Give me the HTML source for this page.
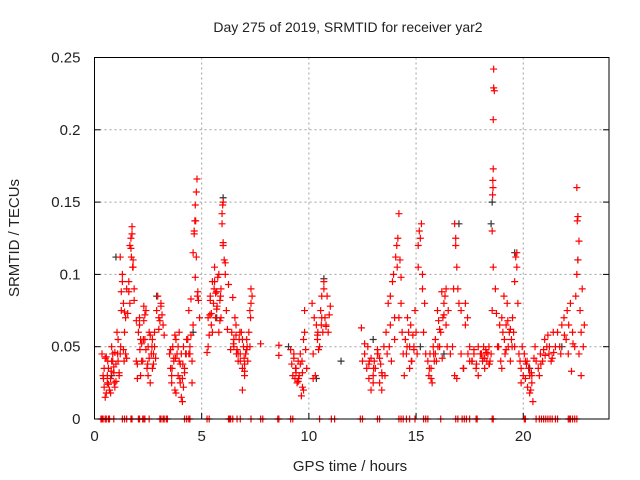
<!DOCTYPE html>
<html><head><meta charset="utf-8"><style>
body{margin:0;background:#fff;}
svg{display:block;font-family:"Liberation Sans",sans-serif;}
</style></head><body>
<svg id="chart" width="640" height="480" viewBox="0 0 640 480">
<text x="348" y="32" font-size="14" text-anchor="middle" fill="#222">Day 275 of 2019, SRMTID for receiver yar2</text>
<text x="350" y="471" font-size="15" text-anchor="middle" fill="#222">GPS time / hours</text>
<text transform="translate(19,238) rotate(-90)" font-size="15" text-anchor="middle" fill="#222">SRMTID / TECUs</text>
<g id="grid"></g>
<g id="axes"></g>
<g id="black"></g>
<g id="red"></g>
<rect x="94.5" y="57.5" width="514.5" height="361.5" fill="none" stroke="#000" stroke-width="1"/>
</svg>
<script>
const xTicks=[0,5,10,15,20];
const yTicks=[0,0.05,0.1,0.15,0.2,0.25];
const yTickLabels=["0","0.05","0.1","0.15","0.2","0.25"];
const redHours=[
.35,.4,.45,.5,.55,.6,.65,.7,.75,.8,.85,.9,.95,1.0,.5,.6,.7,.8,.9,1.0,.45,.55,.65,.75,.85,.95,
1.05,1.1,1.15,1.2,1.25,1.3,1.35,1.4,1.45,1.5,1.55,1.6,1.65,1.7,1.75,1.8,1.85,1.2,1.3,1.4,1.5,1.6,1.7,1.75,1.8,1.1,1.25,1.45,1.65,1.72,1.78,1.85,1.15,1.35,
1.95,2.0,2.05,2.1,2.15,2.2,2.25,2.3,2.35,2.4,2.45,2.5,2.55,2.6,2.65,2.7,2.75,2.8,2.85,2.0,2.1,2.2,2.3,2.4,2.5,2.6,2.7,2.8,1.95,2.15,2.35,2.55,2.75,
2.9,2.95,3.0,3.05,3.1,3.15,3.2,3.0,3.1,3.25,
3.5,3.55,3.6,3.65,3.7,3.75,3.8,3.85,3.9,3.95,4.0,4.05,4.1,4.15,4.2,4.25,4.3,3.6,3.7,3.8,3.9,4.0,4.1,4.2,3.55,3.75,3.95,4.15,4.05,
4.35,4.4,4.45,4.5,4.55,4.6,4.65,4.7,4.72,4.75,4.78,4.8,4.85,4.9,4.4,4.5,4.6,4.65,4.68,4.7,4.75,4.82,4.45,4.55,
5.25,5.3,5.35,5.4,5.45,5.5,5.55,5.6,5.65,5.7,5.75,5.8,5.85,5.9,5.95,6.0,6.05,6.1,6.15,6.2,6.25,5.3,5.4,5.5,5.6,5.7,5.8,5.9,6.0,6.1,5.95,6.0,5.98,5.45,5.65,5.85,
6.35,6.4,6.45,6.5,6.55,6.6,6.65,6.7,6.75,6.8,6.85,6.9,6.95,7.0,7.05,7.1,7.15,7.2,7.25,7.3,7.35,7.25,7.3,7.28,6.5,6.6,6.7,6.8,6.9,7.0,7.1,6.9,7.0,
7.75,8.6,8.6,
9.15,9.2,9.25,9.3,9.35,9.4,9.45,9.5,9.55,9.6,9.65,9.7,9.75,9.8,9.85,9.9,9.3,9.4,9.5,9.6,9.7,9.8,9.75,
10.15,10.2,10.25,10.3,10.35,10.4,10.45,10.5,10.55,10.6,10.65,10.7,10.75,10.8,10.85,10.9,10.95,11.0,10.4,10.6,10.8,10.2,10.7,
12.45,12.5,12.6,12.7,12.75,12.8,12.9,13.0,13.05,13.1,13.2,13.3,13.35,13.4,13.5,13.55,12.6,12.8,13.0,13.2,13.4,12.9,13.3,
13.6,13.65,13.7,13.75,13.8,13.85,13.9,13.95,14.0,14.05,14.1,14.15,14.2,14.25,14.3,14.35,14.4,14.45,13.8,14.0,14.2,14.3,14.12,
14.5,14.55,14.6,14.65,14.7,14.75,14.8,14.85,14.9,14.95,15.0,15.05,15.1,15.15,15.2,15.25,15.3,15.35,15.4,15.45,14.7,14.9,15.1,15.3,
15.55,15.6,15.65,15.7,15.75,15.8,15.85,15.9,15.95,16.0,16.05,16.1,16.15,16.2,16.25,16.3,16.35,16.4,16.45,16.5,15.7,15.9,16.1,16.3,16.4,
16.6,16.7,16.75,16.8,16.85,16.9,16.95,17.0,17.1,17.2,17.3,17.4,17.5,17.6,17.7,17.8,17.9,18.0,16.8,16.9,17.1,17.3,17.5,17.7,17.9,16.85,
18.05,18.1,18.15,18.2,18.25,18.3,18.35,18.4,18.45,18.5,18.55,18.58,18.6,18.62,18.65,18.55,18.6,18.7,18.75,18.8,18.2,18.4,18.6,18.62,18.57,18.59,
18.85,18.9,18.95,19.0,19.05,19.1,19.15,19.2,19.25,19.3,19.35,19.4,19.45,19.5,19.55,19.6,19.65,19.7,19.75,19.0,19.2,19.4,19.6,19.7,
19.8,19.85,19.9,19.95,20.0,20.05,20.1,20.15,20.2,20.25,20.3,20.35,20.4,20.45,20.5,20.55,19.9,20.1,20.3,20.4,
20.6,20.7,20.8,20.9,21.0,21.1,21.2,21.3,21.4,21.5,20.75,20.95,21.15,21.35,
21.6,21.7,21.8,21.9,22.0,22.1,22.2,22.3,22.4,22.45,22.5,22.55,22.6,22.65,22.7,22.75,22.8,22.85,21.75,22.05,22.25,22.5,22.52,22.55,22.6,22.7,
0.42,0.62,0.78,0.92,1.08,1.22,1.38,2.12,2.28,2.48,2.68,3.62,3.78,3.98,4.12,4.28,5.38,5.58,5.72,5.88,6.48,6.62,6.78,6.98,7.12,9.38,9.52,9.68,10.42,10.58,12.82,13.02,13.22,13.42,14.58,14.78,15.62,15.82,16.02,16.22,17.22,17.42,17.62,17.82,18.12,18.28,18.42,19.12,19.28,19.48,20.18,20.38,20.82,21.02,21.22,21.42,21.92,22.12,22.32];
const redValues=[
.045,.03,.022,.042,.018,.025,.035,.02,.028,.04,.045,.032,.022,.038,.015,.03,.02,.05,.036,.026,.035,.043,.024,.018,.04,.046,
.06,.055,.03,.112,.088,.1,.08,.074,.045,.09,.073,.095,.12,.125,.133,.105,.09,.045,.095,.06,.042,.088,.118,.128,.11,.04,.075,.07,.08,.112,.105,.082,.032,.048,
.068,.038,.06,.07,.03,.052,.04,.078,.055,.075,.035,.05,.06,.025,.045,.055,.038,.05,.042,.028,.065,.04,.068,.048,.03,.058,.035,.06,.04,.055,.072,.042,.045,
.075,.085,.07,.068,.078,.072,.065,.062,.08,.058,
.045,.035,.025,.05,.04,.02,.055,.045,.03,.06,.038,.015,.028,.05,.035,.045,.055,.03,.042,.018,.05,.025,.012,.032,.048,.058,.04,.022,.045,
.055,.075,.045,.058,.04,.115,.13,.148,.137,.157,.166,.085,.082,.07,.045,.083,.065,.128,.137,.098,.112,.088,.05,.025,
.046,.07,.058,.085,.065,.095,.08,.105,.07,.088,.098,.06,.082,.09,.135,.15,.11,.1,.075,.062,.093,.05,.082,.06,.095,.076,.1,.07,.12,.108,.142,.122,.148,.073,.087,.068,
.048,.06,.084,.055,.07,.065,.048,.04,.055,.045,.06,.035,.05,.03,.045,.055,.04,.06,.05,.09,.085,.075,.08,.07,.05,.058,.045,.04,.02,.038,.048,.055,.033,
.052,.051,.044,
.048,.038,.03,.045,.028,.035,.025,.04,.03,.045,.016,.032,.055,.06,.048,.035,.042,.032,.026,.038,.022,.075,.02,
.08,.045,.07,.03,.065,.058,.048,.05,.075,.085,.06,.09,.07,.065,.085,.06,.072,.078,.055,.07,.064,.028,.095,
.063,.04,.045,.035,.05,.028,.042,.025,.04,.035,.045,.025,.038,.02,.05,.03,.052,.038,.03,.048,.032,.02,.042,
.06,.045,.08,.05,.065,.04,.095,.1,.07,.112,.12,.125,.142,.11,.08,.06,.045,.03,.085,.055,.07,.098,.105,
.055,.045,.07,.06,.05,.065,.04,.058,.05,.075,.06,.045,.105,.13,.125,.135,.1,.06,.08,.045,.035,.048,.12,.09,
.04,.03,.045,.035,.025,.05,.04,.055,.04,.075,.068,.05,.06,.088,.07,.08,.085,.065,.05,.075,.028,.045,.062,.072,.09,
.045,.05,.09,.135,.12,.105,.09,.08,.045,.035,.08,.07,.05,.04,.045,.035,.03,.045,.03,.028,.075,.065,.04,.048,.05,.125,
.045,.04,.05,.042,.048,.04,.045,.05,.04,.045,.075,.165,.173,.242,.227,.13,.105,.09,.073,.05,.035,.038,.207,.229,.155,.16,
.05,.065,.04,.07,.06,.085,.045,.065,.08,.05,.06,.04,.055,.07,.06,.095,.112,.105,.08,.035,.048,.062,.05,.115,
.045,.04,.035,.05,.03,.045,.028,.038,.022,.035,.03,.02,.025,.012,.042,.05,.025,.04,.018,.03,
.04,.035,.045,.04,.055,.05,.045,.04,.06,.05,.03,.048,.058,.042,
.06,.05,.065,.07,.055,.045,.08,.06,.05,.085,.1,.14,.123,.075,.06,.09,.05,.065,.045,.075,.033,.16,.137,.11,.045,.03,
.028,.04,.033,.025,.045,.05,.04,.048,.055,.038,.05,.035,.042,.028,.038,.045,.072,.09,.078,.085,.052,.045,.06,.042,.05,.035,.028,.04,.06,.065,.04,.035,.045,.03,.05,.04,.035,.045,.05,.042,.035,.045,.04,.038,.042,.046,.038,.055,.068,.05,.04,.032,.038,.044,.05,.046,.058,.065,.052];
const zeroHours=[0.3,.35,.4,.5,.55,.65,.7,.9,1.3,1.4,1.5,1.7,1.75,2.05,2.1,2.25,2.3,2.35,2.55,3.05,3.1,3.2,3.25,3.35,3.4,4.2,4.3,4.4,4.45,5.25,5.35,6.25,6.3,6.35,6.45,6.65,6.8,7.3,7.75,7.85,8.55,8.6,9.15,9.25,10.5,11.05,11.2,12.4,12.5,13.2,13.3,14.2,14.3,14.4,14.55,14.7,14.95,15.35,15.45,15.55,16.15,16.85,16.95,17.15,17.25,17.35,17.5,17.8,17.85,18.55,18.6,20.05,20.1,20.6,20.75,20.85,20.95,21.05,21.15,21.25,21.35,21.5,21.6,22.1,22.15,22.2,22.3,22.4,22.5];
const blackHours=[1.0,0.8,2.9,6.0,9.05,10.35,10.7,11.5,13.0,17.0,18.5,18.55,19.6,22.55,4.6,5.7,15.2,16.3,20.3,21.8];
const blackValues=[.112,.03,.085,.153,.05,.028,.097,.04,.055,.135,.135,.15,.115,.11,.06,.07,.05,.045,.035,.05];

const X0=94.5,X1=609,Y0=419,Y1=57.5;
const xs=h=>X0+(h/24)*(X1-X0);
const ys=v=>Y0-(v/0.25)*(Y0-Y1);
const NS="http://www.w3.org/2000/svg";
const grid=document.getElementById('grid'),axes=document.getElementById('axes');
function mk(tag,attrs,parent){const e=document.createElementNS(NS,tag);for(const k in attrs)e.setAttribute(k,attrs[k]);parent.appendChild(e);return e;}
xTicks.forEach(t=>{
  const x=xs(t);
  if(t>0){const g=mk('line',{x1:x,x2:x,y1:Y1,y2:Y0,stroke:'#a0a0a0','stroke-dasharray':'2,3'},grid);
  
  }
  const tk=mk('line',{x1:x,x2:x,y1:Y0,y2:Y0-6,stroke:'#000'},axes);
  
  
  const l=mk('text',{x:x,y:Y0+22,'font-size':15,'text-anchor':'middle',fill:'#222'},axes);
  l.textContent=String(t);
  
  
});
yTicks.forEach((t,i)=>{
  const y=ys(t);
  if(t>0&&t<0.25){const g=mk('line',{x1:X0,x2:X1,y1:y,y2:y,stroke:'#a0a0a0','stroke-dasharray':'2,3'},grid);
  
  }
  const tk=mk('line',{x1:X0,x2:X0+6,y1:y,y2:y,stroke:'#000'},axes);
  
  
  const tk2=mk('line',{x1:X1,x2:X1-6,y1:y,y2:y,stroke:'#000'},axes);
  
  
  const l=mk('text',{x:X0-14,y:y+5,'font-size':15,'text-anchor':'end',fill:'#222'},axes);
  l.textContent=yTickLabels[i];
  
  
});
function plus(g,h,v,col,name){
  const x=xs(h),y=ys(v);
  const p=mk('path',{d:`M${x-3.5},${y}H${x+3.5}M${x},${y-3.5}V${y+3.5}`,stroke:col,'stroke-width':1.2,fill:'none'},g);
  
  
}
const bg=document.getElementById('black'),rg=document.getElementById('red');
blackHours.forEach((h,i)=>plus(bg,h,blackValues[i],'#333','black-point'));
redHours.forEach((h,i)=>plus(rg,h,redValues[i],'#f00','red-point'));
zeroHours.forEach(h=>plus(rg,h,0,'#f00','zero-point'));
</script>
</body></html>
